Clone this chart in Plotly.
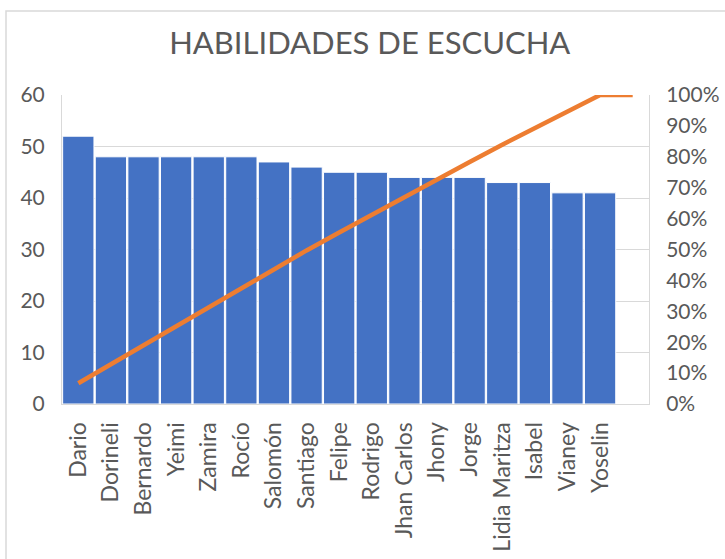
import plotly.graph_objects as go

# data (Pareto chart)
nombres = ["Dario", "Dorineli", "Bernardo", "Yeimi", "Zamira", "Rocío", "Salomón",
           "Santiago", "Felipe", "Rodrigo", "Jhan Carlos", "Jhony", "Jorge",
           "Lidia Maritza", "Isabel", "Vianey", "Yoselin", " "]
puntaje = [52, 48, 48, 48, 48, 48, 47, 46, 45, 45, 44, 44, 44, 43, 43, 41, 41, None]
acumulado = [6.7, 12.9, 19.1, 25.3, 31.5, 37.7, 43.7, 49.7, 55.5, 61.3, 67.0, 72.6,
             78.3, 83.9, 89.4, 94.7, 100, 100]
ticks_izq = [0, 10, 20, 30, 40, 50, 60]
ticks_der = [0, 10, 20, 30, 40, 50, 60, 70, 80, 90, 100]

GRIS = "#595959"
LINEA = "#D9D9D9"
FUENTE = "Lato"

fig = go.Figure()
fig.add_trace(go.Bar(x=nombres, y=puntaje, marker=dict(color="#4472C4", line=dict(color="white", width=1)),
                     name="Puntaje"))
fig.add_trace(go.Scatter(x=nombres, y=acumulado, yaxis="y2", mode="lines",
                         line=dict(color="#ED7D31", width=4.5), name="Acumulado"))

fig.update_layout(
    width=725, height=559,
    margin=dict(l=62, r=76, t=95, b=155),
    paper_bgcolor="white", plot_bgcolor="white",
    showlegend=False,
    bargap=0.04,
    title=dict(text="HABILIDADES DE ESCUCHA", x=0.51, xanchor="center", y=0.923, yanchor="middle",
               font=dict(family=FUENTE, size=31, color=GRIS)),
    font=dict(family=FUENTE, size=21, color=GRIS),
    xaxis=dict(type="category", tickangle=-90, showgrid=False, showline=True, linecolor=LINEA,
               linewidth=1, mirror=False, ticks="outside", ticklen=8, tickcolor="white",
               tickfont=dict(size=23, color=GRIS), automargin=False),
    yaxis=dict(range=[0, 60], tickvals=ticks_izq, showgrid=True, gridcolor=LINEA, gridwidth=1,
               zeroline=False, showline=True, linecolor=LINEA, ticks="outside", ticklen=12,
               tickcolor="white", tickfont=dict(size=21, color=GRIS), automargin=False),
    yaxis2=dict(range=[0, 100], tickvals=ticks_der, ticktext=[f"{v}%" for v in ticks_der],
                overlaying="y", side="right", showgrid=False, zeroline=False, showline=True,
                linecolor=LINEA, ticks="outside", ticklen=12, tickcolor="white",
                tickfont=dict(size=21, color=GRIS), automargin=False),
)

# chart border like the Excel chart area
fig.add_shape(type="rect", xref="paper", yref="paper", x0=-0.0954, x1=1.15, y0=-0.55, y1=1.272,
              line=dict(color=LINEA, width=1.5), fillcolor="rgba(0,0,0,0)", layer="below")

# page without the default body margin, no modebar
fig.write_html("out.html", config={"displayModeBar": False},
               post_script="document.body.style.margin='0';")
